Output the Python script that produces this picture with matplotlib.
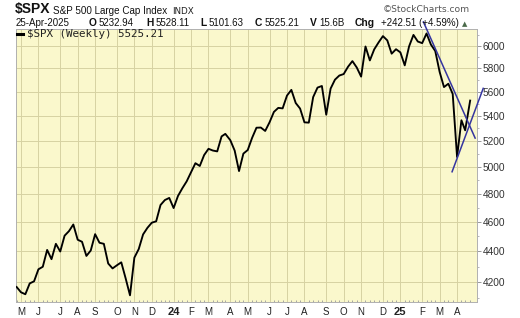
import matplotlib
matplotlib.use("Agg")
import matplotlib.pyplot as plt
import matplotlib.dates as mdates
from matplotlib.ticker import FixedLocator, NullFormatter, FuncFormatter
from matplotlib.lines import Line2D
import numpy as np
import pandas as pd

# ---------------- data ----------------
dates = pd.to_datetime([
    "2023-04-28", "2023-05-05", "2023-05-12", "2023-05-19", "2023-05-26",
    "2023-06-02", "2023-06-09", "2023-06-16", "2023-06-23", "2023-06-30",
    "2023-07-07", "2023-07-14", "2023-07-21", "2023-07-28", "2023-08-04",
    "2023-08-11", "2023-08-18", "2023-08-25", "2023-09-01", "2023-09-08",
    "2023-09-15", "2023-09-22", "2023-09-29", "2023-10-06", "2023-10-13",
    "2023-10-20", "2023-10-27", "2023-11-03", "2023-11-10", "2023-11-17",
    "2023-11-24", "2023-12-01", "2023-12-08", "2023-12-15", "2023-12-22",
    "2023-12-29", "2024-01-05", "2024-01-12", "2024-01-19", "2024-01-26",
    "2024-02-02", "2024-02-09", "2024-02-16", "2024-02-23", "2024-03-01",
    "2024-03-08", "2024-03-15", "2024-03-22", "2024-03-28", "2024-04-05",
    "2024-04-12", "2024-04-19", "2024-04-26", "2024-05-03", "2024-05-10",
    "2024-05-17", "2024-05-24", "2024-05-31", "2024-06-07", "2024-06-14",
    "2024-06-21", "2024-06-28", "2024-07-05", "2024-07-12", "2024-07-19",
    "2024-07-26", "2024-08-02", "2024-08-09", "2024-08-16", "2024-08-23",
    "2024-08-30", "2024-09-06", "2024-09-13", "2024-09-20", "2024-09-27",
    "2024-10-04", "2024-10-11", "2024-10-18", "2024-10-25", "2024-11-01",
    "2024-11-08", "2024-11-15", "2024-11-22", "2024-11-29", "2024-12-06",
    "2024-12-13", "2024-12-20", "2024-12-27", "2025-01-03", "2025-01-10",
    "2025-01-17", "2025-01-24", "2025-01-31", "2025-02-07", "2025-02-14",
    "2025-02-21", "2025-02-28", "2025-03-07", "2025-03-14", "2025-03-21",
    "2025-03-28", "2025-04-04", "2025-04-11", "2025-04-17", "2025-04-25",
])
closes = [
    4169.48, 4136.25, 4124.08, 4191.98, 4205.45,
    4282.37, 4298.86, 4409.59, 4348.33, 4450.38,
    4398.95, 4505.42, 4536.34, 4582.23, 4478.03,
    4464.05, 4369.71, 4405.71, 4515.77, 4457.49,
    4450.32, 4320.06, 4288.05, 4308.50, 4327.78,
    4224.16, 4117.37, 4358.34, 4415.24, 4514.02,
    4559.34, 4594.63, 4604.37, 4719.19, 4754.63,
    4769.83, 4697.24, 4783.83, 4839.81, 4890.97,
    4958.61, 5026.61, 5005.57, 5088.80, 5137.08,
    5123.69, 5117.09, 5234.18, 5254.35, 5204.34,
    5123.41, 4967.23, 5099.96, 5127.79, 5222.68,
    5303.27, 5304.72, 5277.51, 5346.99, 5431.60,
    5464.62, 5460.48, 5567.19, 5615.35, 5505.00,
    5459.10, 5346.56, 5344.16, 5554.25, 5634.61,
    5648.40, 5408.42, 5626.02, 5702.55, 5738.17,
    5751.07, 5815.03, 5864.67, 5808.12, 5728.80,
    5995.54, 5870.62, 5969.34, 6032.38, 6090.27,
    6051.09, 5930.85, 5970.84, 5942.47, 5827.04,
    5996.66, 6101.24, 6040.53, 6025.99, 6114.63,
    6013.13, 5954.50, 5770.20, 5638.94, 5667.56,
    5580.94, 5074.08, 5363.36, 5282.70, 5525.21,
]

# trend lines (endpoints)
trend_down_dates = pd.to_datetime(["2025-02-09", "2025-05-03"])
trend_down_vals = [6222, 5221]
trend_up_dates = pd.to_datetime(["2025-03-27", "2025-05-16"])
trend_up_vals = [4962, 5628]

y_ticks = [4200, 4400, 4600, 4800, 5000, 5200, 5400, 5600, 5800, 6000]
month_initials = ["J", "F", "M", "A", "M", "J", "J", "A", "S", "O", "N", "D"]

title_symbol = "$SPX"
title_name = "S&P 500 Large Cap Index"
title_exch = "INDX"
bar_date = "25-Apr-2025"
ohlc_labels = ["O", "H", "L", "C", "V", "Chg"]
ohlc_values = ["5232.94", "5528.11", "5101.63", "5525.21", "15.6B", "+242.51 (+4.59%)"]
legend_text = "$SPX (Weekly) 5525.21"

# ---------------- figure ----------------
W, H = 520, 318
fig = plt.figure(figsize=(W / 100, H / 100), dpi=100)
fig.patch.set_facecolor("white")

ax_l, ax_r, ax_t, ax_b = 16, 477, 29, 302
ax = fig.add_axes([ax_l / W, 1 - ax_b / H, (ax_r - ax_l) / W, (ax_b - ax_t) / H])
ax.set_facecolor("#FAF8CC")

ax.plot(dates, closes, color="black", lw=1.35, solid_joinstyle="round", zorder=3)

blue = "#3535A0"
ax.plot(trend_down_dates, trend_down_vals, color=blue, lw=1.1, clip_on=False, zorder=4)
ax.plot(trend_up_dates, trend_up_vals, color=blue, lw=1.1, clip_on=False, zorder=4)

ax.set_yscale("log")
ax.set_ylim(4076, 6156)
ax.set_xlim(pd.Timestamp("2023-04-27"), pd.Timestamp("2025-05-06"))

# y axis on the right
ax.yaxis.tick_right()
ax.yaxis.set_major_locator(FixedLocator(y_ticks))
ax.yaxis.set_major_formatter(FuncFormatter(lambda v, p: f"{int(round(v))}"))
minor_y = [v for v in range(4100, 6200, 100) if v not in y_ticks]
ax.yaxis.set_minor_locator(FixedLocator(minor_y))
ax.yaxis.set_minor_formatter(NullFormatter())
ax.tick_params(axis="y", which="major", length=3, width=0.6, color="#888888",
               pad=1, labelsize=7.3, labelcolor="#333333")
ax.tick_params(axis="y", which="minor", length=1.5, width=0.5, color="#999999")
for lab in ax.get_yticklabels():
    lab.set_fontfamily("Liberation Sans")

# x ticks at the first weekly bar of each month
s = pd.Series(dates)
first_in_month = s.groupby([s.dt.year, s.dt.month]).first().tolist()
first_in_month = [d for d in first_in_month if d > dates[0]]
tick_nums = [mdates.date2num(d) for d in first_in_month]
tick_labels = []
for d in first_in_month:
    tick_labels.append(str(d.year)[2:] if d.month == 1 else month_initials[d.month - 1])
ax.xaxis.set_major_locator(FixedLocator(tick_nums))
ax.set_xticklabels(tick_labels)
ax.xaxis.set_minor_locator(FixedLocator([mdates.date2num(d) for d in dates]))
ax.xaxis.set_minor_formatter(NullFormatter())
ax.tick_params(axis="x", which="major", length=0, pad=3.5, labelsize=7, labelcolor="#222222")
ax.tick_params(axis="x", which="minor", length=1.5, width=0.6, color="#999999", direction="in")
for lab in ax.get_xticklabels():
    lab.set_fontfamily("Liberation Sans")
    if lab.get_text().isdigit():
        lab.set_fontweight("bold")
        lab.set_fontsize(8)

ax.grid(True, which="major", color="#D6D2A2", lw=0.7, zorder=0)
ax.set_axisbelow(True)
for sp in ax.spines.values():
    sp.set_color("#B0B0B0")
    sp.set_linewidth(0.7)

# ---------------- header texts ----------------
renderer = fig.canvas.get_renderer()

def ftext(x, y, txt, **kw):
    return fig.text(x / W, 1 - y / H, txt, va="baseline", ha="left", **kw)

def right_px(t):
    return t.get_window_extent(renderer=renderer).x1

ftext(15, 13.5, title_symbol, fontsize=10, fontweight="bold", family="Liberation Sans", color="#111111")
ftext(53, 13.5, title_name, fontsize=7.1, family="Liberation Sans", color="#111111")
ftext(172, 13.5, title_exch, fontsize=6.3, family="DejaVu Sans", color="#222222")
ftext(383, 12.5, "\u00a9StockCharts.com", fontsize=6.6, family="DejaVu Sans", color="#555555")

ftext(16, 26.5, bar_date, fontsize=7, family="Liberation Sans", color="#111111")
label_x = [89, 146, 200, 255, 310, 355]
value_x = [97, 153, 207, 265, 318, 381]
for lx, vx, l, v in zip(label_x, value_x, ohlc_labels, ohlc_values):
    t = ftext(lx, 26.5, l, fontsize=7.4, fontweight="bold", family="Liberation Sans", color="#111111")
    vx = max(vx, right_px(t) + 2)
    ftext(vx, 26.5, v, fontsize=7, family="Liberation Sans", color="#111111")
ftext(462, 26.5, "\u25b2", fontsize=5, family="DejaVu Sans", color="#4A6A4A")

# legend inside plot
fig.add_artist(Line2D([17 / W, 23 / W], [1 - 33.5 / H, 1 - 33.5 / H], color="black", lw=2.2))
ftext(27, 37, legend_text, fontsize=7.8, family="DejaVu Sans Mono", color="#222222")

fig.savefig("out.png", dpi=100, facecolor="white")
